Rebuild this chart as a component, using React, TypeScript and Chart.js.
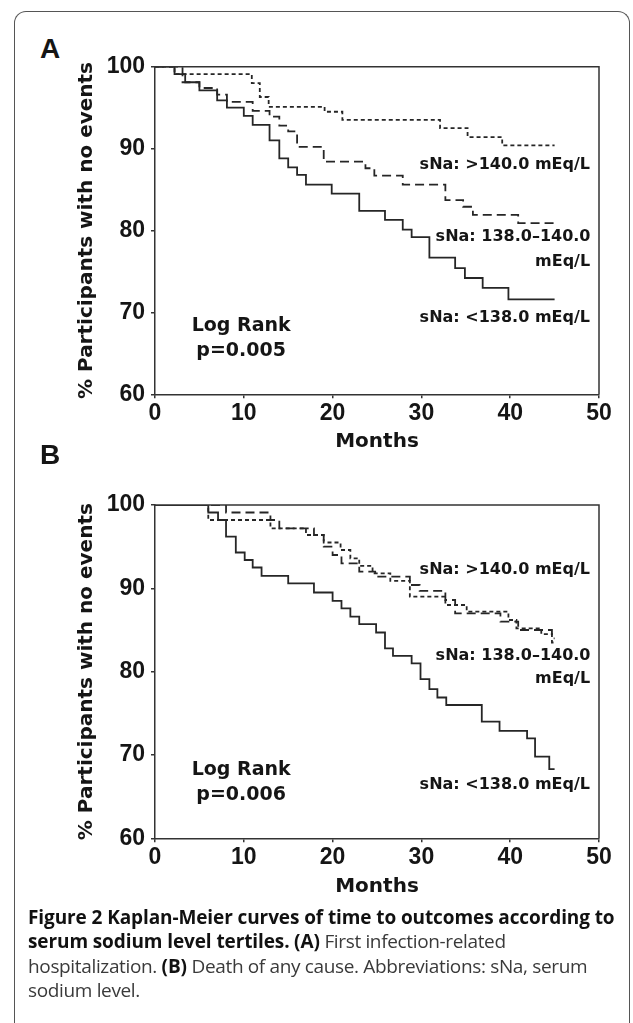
import React, { useEffect, useRef } from "react";
import { Chart, registerables } from "chart.js";

Chart.register(...registerables);

// ---- axis ticks ----
const monthTicks = [0, 10, 20, 30, 40, 50];
const pctTicks = [60, 70, 80, 90, 100];

// ---- Panel A: first infection-related hospitalization ----
const aHighMonths = [0, 2.2, 10.9, 11.8, 12.8, 19.1, 21.1, 32.1, 35.2, 39.1, 45];
const aHighPct = [100, 99.1, 98.0, 96.3, 95.1, 94.5, 93.5, 92.5, 91.4, 90.4, 90.4];
const aMidMonths = [0, 3.1, 5.0, 7.0, 8.1, 11.0, 12.9, 14.0, 15.0, 16.0, 19.0, 23.7, 24.7, 27.9, 32.7, 34.7, 35.8, 40.9, 45];
const aMidPct = [100, 98.1, 97.4, 96.6, 95.7, 94.6, 93.9, 92.8, 92.1, 90.2, 88.4, 87.6, 86.7, 85.6, 83.7, 82.9, 81.9, 80.9, 80.9];
const aLowMonths = [0, 2.2, 3.4, 5.0, 7.0, 8.1, 10.0, 11.0, 12.9, 14.0, 15.0, 16.0, 17.0, 19.9, 23.0, 25.9, 27.9, 28.9, 30.9, 33.8, 34.9, 36.9, 39.8, 45];
const aLowPct = [100, 99.1, 98.1, 97.1, 95.9, 95.0, 94.0, 92.9, 91.0, 88.8, 87.7, 86.8, 85.6, 84.5, 82.4, 81.3, 80.1, 79.2, 76.7, 75.4, 74.2, 73.0, 71.6, 71.6];

// ---- Panel B: death of any cause ----
const bHighMonths = [0, 6.0, 13.0, 17.0, 19.0, 20.9, 22.0, 23.0, 24.5, 26.5, 28.7, 32.7, 35.1, 39.8, 40.7, 43.5, 44.7, 45];
const bHighPct = [100, 98.2, 97.2, 96.4, 95.5, 94.6, 93.6, 92.7, 91.8, 90.9, 89.0, 88.0, 87.2, 86.2, 85.2, 84.5, 83.5, 83.5];
const bMidMonths = [0, 8.0, 13.0, 14.0, 17.9, 19.0, 20.0, 21.0, 23.0, 24.8, 28.7, 29.8, 32.7, 33.8, 38.9, 40.9, 44.7, 45];
const bMidPct = [100, 99.1, 98.2, 97.2, 96.4, 95.0, 94.0, 93.0, 92.0, 91.4, 90.4, 89.7, 88.6, 87.0, 86.0, 85.0, 84.0, 84.0];
const bLowMonths = [0, 6.0, 7.1, 8.0, 9.1, 10.1, 11.0, 12.0, 15.0, 17.9, 20.0, 21.0, 22.0, 23.0, 24.9, 25.9, 26.8, 28.9, 29.9, 30.9, 31.8, 32.8, 36.8, 38.8, 41.9, 42.8, 44.4, 45];
const bLowPct = [100, 99.1, 98.2, 96.2, 94.3, 93.4, 92.5, 91.5, 90.6, 89.5, 88.5, 87.6, 86.6, 85.7, 84.7, 82.8, 81.9, 81.0, 79.1, 77.9, 76.9, 76.0, 74.0, 72.9, 72.0, 69.8, 68.3, 68.3];

// ---- labels ----
const yTitle = "% Participants with no events";
const xTitle = "Months";
const labelHigh = "sNa: >140.0 mEq/L";
const labelMid1 = "sNa: 138.0\u2013140.0";
const labelMid2 = "mEq/L";
const labelLow = "sNa: <138.0 mEq/L";
const logRank = "Log Rank";
const pA = "p=0.005";
const pB = "p=0.006";

const NOTE_FONT = 'bold 16px "DejaVu Sans"';
const LR_FONT = 'bold 19px "DejaVu Sans"';
const INK = "#151515";
const LINE = "#262626";

const notesPlugin = {
  id: "notes",
  afterDatasetsDraw(chart: any, _a: any, opts: any) {
    const { ctx, scales } = chart;
    ctx.save();
    ctx.fillStyle = INK;
    ctx.textBaseline = "middle";
    for (const n of opts.items || []) {
      ctx.font = n.font;
      ctx.textAlign = n.align;
      ctx.fillText(n.text, scales.x.getPixelForValue(n.x), scales.y.getPixelForValue(n.y));
    }
    ctx.restore();
  },
};

const framePlugin = {
  id: "frame",
  afterDraw(chart: any) {
    const { ctx, chartArea: a } = chart;
    ctx.save();
    ctx.strokeStyle = "#333";
    ctx.lineWidth = 1.5;
    ctx.beginPath();
    ctx.moveTo(a.left, a.top);
    ctx.lineTo(a.right, a.top);
    ctx.lineTo(a.right, a.bottom);
    ctx.stroke();
    ctx.restore();
  },
};

type Series = { t: number[]; v: number[]; dash: number[] };
type Box = { left: number; top: number; width: number; height: number; padTop: number; padRight: number; padBottom: number; yAxisW: number; xAxisH: number };

function KMPanel({ series, notes, box }: { series: Series[]; notes: any[]; box: Box }) {
  const ref = useRef<HTMLCanvasElement>(null);
  useEffect(() => {
    const tickFont = { family: '"Liberation Sans", Arial, sans-serif', size: 23, weight: "bold" as const };
    const titleFont = { family: '"DejaVu Sans", sans-serif', size: 20, weight: "bold" as const };
    const chart = new Chart(ref.current!, {
      type: "line",
      data: {
        datasets: series.map((s) => ({
          data: s.t.map((t, i) => ({ x: t, y: s.v[i] })),
          borderColor: LINE,
          borderWidth: 1.8,
          borderDash: s.dash,
          stepped: "before" as const,
          pointRadius: 0,
          fill: false,
        })),
      },
      options: {
        responsive: false,
        animation: false,
        events: [],
        layout: { padding: { top: box.padTop, right: box.padRight, bottom: box.padBottom, left: 0 } },
        plugins: { legend: { display: false }, tooltip: { enabled: false }, notes: { items: notes } } as any,
        scales: {
          x: {
            type: "linear",
            min: 0,
            max: 50,
            afterBuildTicks: (s: any) => {
              s.ticks = monthTicks.map((value) => ({ value }));
            },
            afterFit: (s: any) => {
              s.height = box.xAxisH;
            },
            ticks: { font: tickFont, color: INK, padding: 2, maxRotation: 0, autoSkip: false },
            grid: { display: true, drawOnChartArea: false, drawTicks: true, tickLength: 4, color: "#333", lineWidth: 1.5 },
            border: { display: true, color: "#333", width: 1.5 },
            title: { display: true, text: xTitle, font: titleFont, color: INK, padding: { top: 0, bottom: 0 } },
          },
          y: {
            type: "linear",
            min: 60,
            max: 100,
            afterBuildTicks: (s: any) => {
              s.ticks = pctTicks.map((value) => ({ value }));
            },
            afterFit: (s: any) => {
              s.width = box.yAxisW;
            },
            ticks: { font: tickFont, color: INK, padding: 6 },
            grid: { display: true, drawOnChartArea: false, drawTicks: true, tickLength: 4, color: "#333", lineWidth: 1.5 },
            border: { display: true, color: "#333", width: 1.5 },
            title: { display: true, text: yTitle, font: titleFont, color: INK, padding: { top: 15, bottom: 0 } },
          },
        },
      },
      plugins: [notesPlugin as any, framePlugin as any],
    });
    return () => chart.destroy();
  }, []);
  return (
    <canvas
      ref={ref}
      width={box.width}
      height={box.height}
      style={{ position: "absolute", left: box.left, top: box.top, width: box.width, height: box.height }}
    />
  );
}

const solid: number[] = [];
const longDash = [9, 5];
const shortDash = [4, 3];

export default function App() {
  const aSeries: Series[] = [
    { t: aHighMonths, v: aHighPct, dash: shortDash },
    { t: aMidMonths, v: aMidPct, dash: longDash },
    { t: aLowMonths, v: aLowPct, dash: solid },
  ];
  const bSeries: Series[] = [
    { t: bHighMonths, v: bHighPct, dash: shortDash },
    { t: bMidMonths, v: bMidPct, dash: longDash },
    { t: bLowMonths, v: bLowPct, dash: solid },
  ];
  const aNotes = [
    { text: labelHigh, x: 29.8, y: 88.0, align: "left", font: NOTE_FONT },
    { text: labelMid1, x: 31.6, y: 79.2, align: "left", font: NOTE_FONT },
    { text: labelMid2, x: 49.0, y: 76.2, align: "right", font: NOTE_FONT },
    { text: labelLow, x: 29.8, y: 69.3, align: "left", font: NOTE_FONT },
    { text: logRank, x: 9.7, y: 68.3, align: "center", font: LR_FONT },
    { text: pA, x: 9.7, y: 65.3, align: "center", font: LR_FONT },
  ];
  const bNotes = [
    { text: labelHigh, x: 29.8, y: 92.2, align: "left", font: NOTE_FONT },
    { text: labelMid1, x: 31.6, y: 81.9, align: "left", font: NOTE_FONT },
    { text: labelMid2, x: 49.0, y: 79.1, align: "right", font: NOTE_FONT },
    { text: labelLow, x: 29.8, y: 66.4, align: "left", font: NOTE_FONT },
    { text: logRank, x: 9.7, y: 68.2, align: "center", font: LR_FONT },
    { text: pB, x: 9.7, y: 65.2, align: "center", font: LR_FONT },
  ];
  const boxA: Box = { left: 60, top: 40, width: 570, height: 420, padTop: 26.7, padRight: 31, padBottom: 6, yAxisW: 95, xAxisH: 59.7 };
  const boxB: Box = { left: 60, top: 478, width: 570, height: 427, padTop: 27, padRight: 31, padBottom: 6, yAxisW: 95, xAxisH: 60.7 };

  const panelLetter: React.CSSProperties = {
    position: "absolute",
    left: 40,
    fontFamily: '"Liberation Sans", Arial, sans-serif',
    fontWeight: "bold",
    fontSize: 28,
    lineHeight: "28px",
    color: INK,
  };
  const strong: React.CSSProperties = { color: "#111", letterSpacing: "-0.1px" };

  return (
    <div style={{ position: "absolute", left: 0, top: 0, width: 633, height: 1023, overflow: "hidden", background: "#fff" }}>
      <div
        style={{
          position: "absolute",
          left: 14,
          top: 11,
          width: 614,
          height: 1060,
          border: "1.5px solid #555",
          borderBottom: "none",
          borderRadius: "12px 12px 0 0",
        }}
      />
      <div style={{ ...panelLetter, top: 35 }}>A</div>
      <KMPanel series={aSeries} notes={aNotes} box={boxA} />
      <div style={{ ...panelLetter, top: 441 }}>B</div>
      <KMPanel series={bSeries} notes={bNotes} box={boxB} />
      <div
        style={{
          position: "absolute",
          left: 28,
          top: 905,
          fontFamily: '"Open Sans", sans-serif',
          fontSize: 19,
          lineHeight: "24.3px",
          color: "#3a3a3a",
          whiteSpace: "nowrap",
          letterSpacing: "-0.35px",
        }}
      >
        <div>
          <b style={strong}>Figure 2 Kaplan-Meier curves of time to outcomes according to</b>
        </div>
        <div>
          <b style={strong}>serum sodium level tertiles.</b> <b style={strong}>(A)</b> First infection-related
        </div>
        <div>
          hospitalization. <b style={strong}>(B)</b> Death of any cause. Abbreviations: sNa, serum
        </div>
        <div>sodium level.</div>
      </div>
    </div>
  );
}
